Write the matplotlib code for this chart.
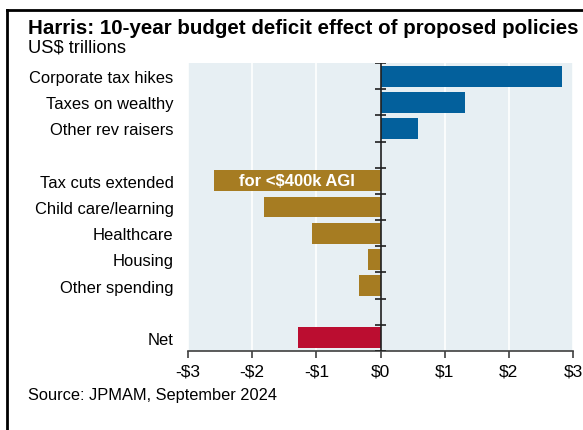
import matplotlib.pyplot as plt
from matplotlib.lines import Line2D
import numpy as np

plt.rcParams['font.family'] = ['Liberation Sans', 'DejaVu Sans']

# top to bottom; None marks a spacer row
labels = ['Corporate tax hikes', 'Taxes on wealthy', 'Other rev raisers', None,
          'Tax cuts extended', 'Child care/learning', 'Healthcare', 'Housing',
          'Other spending', None, 'Net']
values = [2.83, 1.31, 0.58, None,
          -2.60, -1.81, -1.07, -0.20,
          -0.33, None, -1.28]
groups = ['rev', 'rev', 'rev', None,
          'spend', 'spend', 'spend', 'spend',
          'spend', None, 'net']
x_ticks = [-3, -2, -1, 0, 1, 2, 3]
x_labels = ['-$3', '-$2', '-$1', '$0', '$1', '$2', '$3']

colors = {'rev': '#03609c', 'spend': '#a67c22', 'net': '#bb0d30'}

fig = plt.figure(figsize=(5.83, 4.31), dpi=100)
ax = fig.add_axes([0.3225, 0.1833, 0.6605, 0.6682])
ax.set_facecolor('#e7eff3')

n = len(labels)
pos = np.arange(n)
for i, (lab, val, grp) in enumerate(zip(labels, values, groups)):
    if val is None:
        continue
    ax.barh(i, val, height=0.8, color=colors[grp], zorder=2)

ax.set_ylim(n - 0.5, -0.5)
ax.set_xlim(-3, 3)

ax.set_yticks([i for i in pos if labels[i] is not None])
ax.set_yticklabels([l for l in labels if l is not None], fontsize=11.9)
ax.tick_params(axis='y', length=0, pad=10.5)

ax.set_xticks(x_ticks)
ax.set_xticklabels(x_labels, fontsize=12.5)
ax.tick_params(axis='x', length=5, width=1.2, color='#404040', pad=4)

for t in x_ticks:
    if t != 0:
        ax.axvline(t, color='white', lw=1.2, zorder=1)

for side in ['top', 'right', 'left']:
    ax.spines[side].set_visible(False)
ax.spines['bottom'].set_color('#404040')
ax.spines['bottom'].set_linewidth(1.2)

# zero axis with category-boundary ticks
ax.axvline(0, color='#202020', lw=1.2, zorder=3)
ax.hlines(np.arange(n + 1) - 0.5, -0.08, 0.08, color='#202020', lw=1.2, zorder=3)

tc = labels.index('Tax cuts extended')
ax.text(values[tc] / 2, tc, 'for <$400k AGI', color='white', fontsize=12,
        fontweight='bold', ha='center', va='center', zorder=4)

fig.text(28 / 583, 1 - 29 / 431, 'Harris: 10-year budget deficit effect of proposed policies',
         fontsize=14.8, fontweight='bold', va='center', ha='left')
fig.text(28 / 583, 1 - 48 / 431, 'US$ trillions', fontsize=13.2, va='center', ha='left')
fig.text(28 / 583, 1 - 396 / 431, 'Source: JPMAM, September 2024', fontsize=11.8,
         va='center', ha='left')

# frame, open on the right and bottom
fig.add_artist(Line2D([7 / 583, 7 / 583], [0, 1 - 11 / 431], color='black', lw=2,
                      transform=fig.transFigure))
fig.add_artist(Line2D([7 / 583, 1], [1 - 11 / 431, 1 - 11 / 431], color='black', lw=2,
                      transform=fig.transFigure))

fig.savefig('out.png', dpi=100)
